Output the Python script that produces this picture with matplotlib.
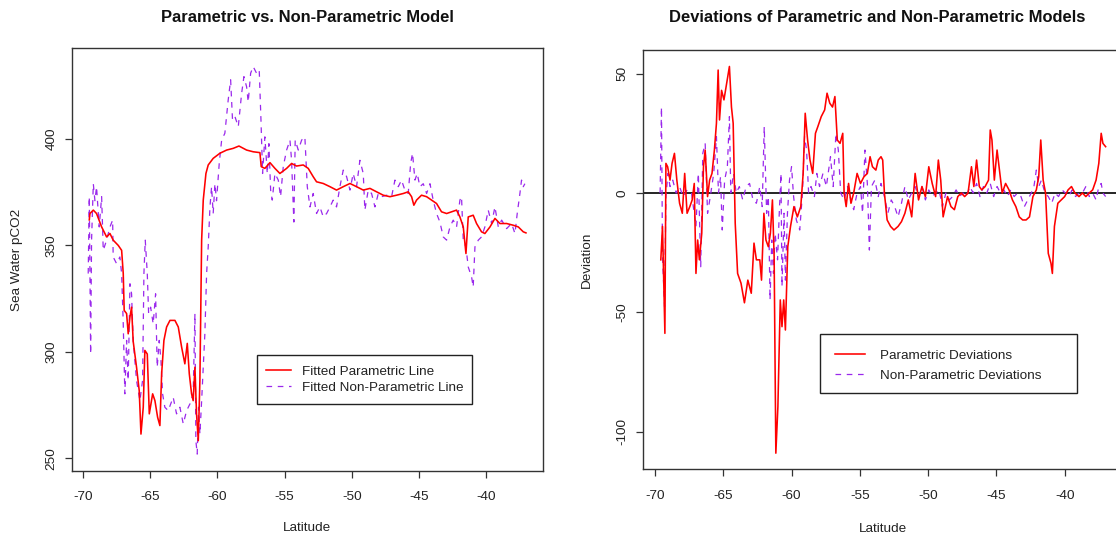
import matplotlib
matplotlib.use("Agg")
import matplotlib.pyplot as plt
from matplotlib.patches import Rectangle

plt.rcParams['font.family'] = ['Liberation Sans', 'DejaVu Sans']
plt.rcParams['axes.unicode_minus'] = False

# ---------------- data ----------------
# Left panel: fitted parametric line (latitude, pCO2)
param_lat = [-69.55, -69.50, -69.25, -69.01, -68.63, -68.26, -68.01, -67.77, -67.39, -67.14,
             -67.02, -66.95, -66.77, -66.65, -66.52, -66.40, -66.28, -66.03, -65.83, -65.70,
             -65.53, -65.41, -65.23, -65.08, -64.83, -64.66, -64.46, -64.29, -64.16, -63.99,
             -63.79, -63.54, -63.17, -62.92, -62.67, -62.43, -62.25, -62.10, -61.93, -61.81,
             -61.68, -61.56, -61.43, -61.31, -61.18, -61.06, -60.86, -60.69, -60.32, -59.82,
             -59.32, -58.83, -58.40, -57.83, -57.34, -56.84, -56.74, -56.47, -56.09, -55.72,
             -55.35, -54.85, -54.48, -54.11, -53.61, -53.24, -52.87, -52.62, -52.12, -51.62,
             -51.13, -50.63, -50.13, -49.64, -49.14, -48.64, -48.15, -47.65, -47.15, -46.66,
             -46.16, -45.79, -45.54, -45.37, -45.17, -44.80, -44.42, -44.05, -43.68, -43.31,
             -42.93, -42.56, -42.19, -41.94, -41.69, -41.49, -41.32, -40.95, -40.70, -40.33,
             -40.08, -39.70, -39.33, -38.96, -38.46, -37.97, -37.59, -37.22, -37.02]
param_fit = [362.0, 365.0, 366.6, 365.0, 358.7, 354.0, 355.6, 352.5, 350.0, 347.7,
             336.8, 319.5, 318.0, 308.5, 316.4, 321.0, 305.0, 292.8, 281.8, 261.4,
             274.0, 300.7, 299.0, 270.9, 280.3, 277.1, 269.3, 265.4, 289.7, 305.4,
             311.7, 314.8, 314.8, 311.7, 302.2, 294.4, 304.0, 289.7, 280.3, 277.1,
             292.8, 270.9, 258.3, 286.6, 352.5, 371.3, 383.8, 387.8, 390.9, 393.3,
             394.8, 395.6, 396.7, 394.8, 394.0, 393.6, 387.0, 386.2, 388.9, 386.2,
             383.8, 386.2, 388.5, 387.3, 387.8, 386.2, 382.3, 379.9, 379.1, 377.6,
             376.0, 377.6, 379.1, 377.6, 376.0, 376.8, 375.2, 373.6, 372.9, 373.6,
             374.4, 375.2, 372.9, 368.9, 371.3, 373.6, 372.9, 371.3, 369.7, 365.8,
             365.0, 365.8, 366.6, 363.4, 358.7, 346.2, 363.4, 364.2, 360.3, 356.4,
             355.6, 358.7, 362.7, 360.3, 360.3, 359.5, 358.7, 356.4, 355.9]

# Left panel: fitted non-parametric line (latitude, pCO2)
nonpar_lat = [-69.63, -69.55, -69.45, -69.38, -69.25, -69.13, -69.01, -68.81, -68.63, -68.51,
              -68.26, -68.01, -67.81, -67.77, -67.52, -67.27, -67.14, -67.02, -66.90, -66.77,
              -66.65, -66.52, -66.40, -66.28, -66.03, -65.78, -65.58, -65.48, -65.38, -65.23,
              -65.13, -64.98, -64.79, -64.61, -64.49, -64.34, -64.21, -64.09, -63.92, -63.67,
              -63.30, -63.05, -62.80, -62.55, -62.30, -62.05, -61.81, -61.68, -61.61, -61.51,
              -61.41, -61.31, -61.18, -61.06, -60.94, -60.81, -60.69, -60.56, -60.44, -60.32,
              -60.19, -60.07, -59.87, -59.69, -59.45, -59.20, -59.02, -58.88, -58.70, -58.45,
              -58.20, -58.03, -57.83, -57.71, -57.53, -57.34, -57.09, -56.89, -56.76, -56.64,
              -56.47, -56.29, -56.17, -56.04, -55.92, -55.72, -55.47, -55.30, -55.10, -54.85,
              -54.60, -54.48, -54.31, -54.21, -53.98, -53.73, -53.49, -53.31, -53.11, -52.87,
              -52.62, -52.37, -52.12, -51.87, -51.62, -51.38, -51.13, -50.88, -50.63, -50.38,
              -50.13, -49.89, -49.64, -49.39, -49.14, -49.02, -48.77, -48.52, -48.27, -48.02,
              -47.78, -47.40, -47.03, -46.78, -46.53, -46.29, -46.04, -45.79, -45.61, -45.47,
              -45.29, -45.12, -44.92, -44.67, -44.42, -44.17, -43.93, -43.68, -43.43, -43.18,
              -42.93, -42.68, -42.44, -42.19, -41.94, -41.82, -41.69, -41.49, -41.32, -41.07,
              -40.95, -40.82, -40.57, -40.33, -40.08, -39.83, -39.58, -39.33, -39.08, -38.83,
              -38.46, -38.09, -37.84, -37.67, -37.47, -37.35, -37.22, -37.10]
nonpar_fit = [336.8, 372.9, 299.0, 352.5, 379.0, 371.0, 377.6, 358.7, 372.9, 347.7,
              352.5, 358.7, 361.9, 344.6, 341.5, 344.6, 336.8, 313.2, 280.3, 305.4,
              286.6, 332.0, 327.3, 305.4, 286.6, 277.1, 286.6, 336.8, 352.5, 336.8,
              318.0, 321.0, 313.2, 327.3, 292.8, 305.4, 296.0, 280.3, 274.0, 272.4,
              278.7, 270.9, 274.0, 266.2, 272.4, 275.6, 280.3, 318.0, 258.3, 252.0,
              274.0, 261.4, 277.1, 292.8, 308.5, 336.8, 349.3, 368.1, 377.6, 365.0,
              379.0, 371.0, 388.5, 399.5, 402.7, 418.4, 427.8, 408.9, 410.5, 405.8,
              421.5, 429.3, 424.5, 417.4, 430.9, 434.0, 430.9, 432.4, 408.9, 383.8,
              401.0, 383.8, 397.8, 376.0, 371.3, 383.8, 380.7, 372.9, 387.0, 394.8,
              399.5, 390.0, 361.0, 399.5, 394.8, 399.5, 401.0, 377.6, 368.1, 374.4,
              365.0, 368.1, 363.4, 365.0, 368.1, 371.3, 368.1, 377.6, 385.4, 382.3,
              376.0, 383.8, 377.6, 390.0, 383.8, 366.6, 376.0, 374.4, 368.1, 374.4,
              372.9, 373.6, 372.9, 380.7, 377.6, 380.7, 376.0, 374.4, 388.5, 393.3,
              380.7, 383.8, 377.6, 379.0, 374.4, 379.0, 371.3, 365.0, 361.0, 354.0,
              352.5, 358.7, 361.9, 358.7, 371.3, 372.9, 352.5, 349.3, 339.9, 335.2,
              330.5, 349.3, 352.5, 354.0, 358.7, 366.6, 360.3, 368.1, 358.7, 361.9,
              357.9, 360.3, 355.6, 365.0, 374.4, 380.7, 377.6, 379.0]

# Right panel: parametric deviations (latitude, deviation)
pdev_lat = [-69.575, -69.45, -69.275, -69.2, -69.075, -68.9, -68.75, -68.575, -68.4, -68.2,
            -68.0, -67.825, -67.65, -67.45, -67.275, -67.125, -67.0, -66.875, -66.75, -66.575,
            -66.45, -66.325, -66.15, -66.0, -65.825, -65.65, -65.5, -65.375, -65.275, -65.125,
            -64.95, -64.75, -64.55, -64.4, -64.275, -64.125, -63.95, -63.7, -63.45, -63.2,
            -62.95, -62.75, -62.575, -62.325, -62.2, -62.025, -61.875, -61.7, -61.55, -61.4,
            -61.275, -61.15, -61.0, -60.825, -60.7, -60.575, -60.45, -60.275, -60.075, -59.825,
            -59.575, -59.325, -59.15, -59.0, -58.825, -58.65, -58.45, -58.25, -58.075, -57.825,
            -57.575, -57.4, -57.2, -57.0, -56.825, -56.65, -56.45, -56.25, -56.15, -56.0,
            -55.825, -55.65, -55.45, -55.2, -54.95, -54.7, -54.45, -54.25, -54.075, -53.825,
            -53.65, -53.45, -53.325, -53.2, -53.0, -52.75, -52.5, -52.2, -51.95, -51.7,
            -51.45, -51.2, -50.95, -50.7, -50.45, -50.2, -49.95, -49.7, -49.45, -49.25,
            -49.075, -48.9, -48.575, -48.325, -48.075, -47.825, -47.575, -47.325, -47.075, -46.825,
            -46.65, -46.45, -46.25, -46.075, -45.825, -45.575, -45.45, -45.325, -45.15, -44.95,
            -44.75, -44.575, -44.325, -44.075, -43.825, -43.575, -43.325, -43.075, -42.825, -42.575,
            -42.325, -42.075, -41.9, -41.75, -41.575, -41.4, -41.2, -41.0, -40.9, -40.75,
            -40.5, -40.25, -40.0, -39.75, -39.5, -39.25, -38.95, -38.7, -38.45, -38.2,
            -37.95, -37.7, -37.5, -37.325, -37.2, -37.0]
pdev_val = [-28.0, -14.0, -58.8, 12.4, 11.0, 5.4, 12.4, 16.6, 5.4, -4.3,
            -8.5, 8.2, -8.5, -5.7, -2.9, 4.0, -33.7, -19.7, -28.0, -16.9,
            11.0, 18.0, -1.5, 5.4, 8.2, 18.0, 29.2, 51.5, 30.6, 43.0,
            39.0, 46.0, 53.0, 36.0, 29.2, -12.7, -33.7, -37.8, -46.0, -36.5,
            -42.0, -21.0, -28.0, -28.0, -36.5, -8.5, -19.7, -22.5, -16.9, -2.9,
            -26.7, -109.0, -89.5, -44.8, -56.0, -44.8, -57.4, -22.5, -14.0, -5.7,
            -10.0, -5.7, 8.2, 33.4, 22.2, 13.8, 8.2, 25.0, 27.8, 32.0,
            34.8, 41.8, 37.6, 36.0, 40.4, 22.2, 20.8, 25.0, 0.0, -5.7,
            4.0, -4.3, 0.0, 8.2, 4.0, 6.8, 8.2, 15.2, 11.0, 9.6,
            13.8, 15.2, 13.8, 0.0, -11.3, -14.0, -15.5, -14.0, -12.0, -8.5,
            -2.9, -10.0, 8.2, -2.9, 2.7, -1.5, 11.0, 4.0, -1.5, 13.8,
            5.4, -10.0, -1.5, -5.7, -7.0, -1.5, 0.0, -1.5, 0.0, 11.0,
            2.7, 13.8, 2.7, 1.3, 2.7, 5.4, 26.4, 22.2, 5.4, 18.0,
            8.2, 0.0, 4.0, 1.3, -2.9, -5.7, -10.0, -11.3, -11.3, -10.0,
            -1.5, 1.3, 6.8, 22.2, 5.4, 0.0, -25.3, -29.5, -33.7, -14.0,
            -4.3, -2.9, -1.5, 1.3, 2.7, 0.0, -1.5, 0.0, -1.5, 0.0,
            1.3, 5.4, 12.4, 25.0, 20.8, 19.4]

# Right panel: non-parametric deviations (latitude, deviation)
ndev_lat = [-69.625, -69.525, -69.45, -69.3, -69.2, -69.05, -68.9, -68.7, -68.45, -68.2,
            -67.95, -67.65, -67.325, -67.0, -66.825, -66.65, -66.5, -66.325, -66.15, -65.95,
            -65.7, -65.5, -65.35, -65.2, -65.075, -64.9, -64.7, -64.55, -64.45, -64.25,
            -64.05, -63.825, -63.575, -63.325, -63.075, -62.825, -62.575, -62.325, -62.15, -62.0,
            -61.825, -61.7, -61.575, -61.45, -61.325, -61.2, -61.025, -60.9, -60.775, -60.7,
            -60.55, -60.45, -60.3, -60.15, -60.0, -59.85, -59.65, -59.4, -59.2, -59.05,
            -58.9, -58.75, -58.575, -58.325, -58.15, -57.95, -57.7, -57.45, -57.15, -56.95,
            -56.75, -56.575, -56.4, -56.15, -55.9, -55.65, -55.45, -55.2, -54.95, -54.8,
            -54.625, -54.45, -54.3, -54.15, -53.9, -53.65, -53.45, -53.2, -52.95, -52.7,
            -52.45, -52.2, -51.95, -51.7, -51.45, -51.2, -50.95, -50.7, -50.45, -50.2,
            -49.95, -49.7, -49.45, -49.2, -48.95, -48.7, -48.45, -48.2, -47.95, -47.7,
            -47.45, -47.2, -46.95, -46.7, -46.45, -46.2, -45.95, -45.7, -45.45, -45.2,
            -44.95, -44.7, -44.45, -44.2, -43.95, -43.7, -43.45, -43.2, -42.95, -42.7,
            -42.45, -42.25, -42.075, -41.9, -41.7, -41.45, -41.2, -40.95, -40.7, -40.45,
            -40.2, -39.95, -39.7, -39.45, -39.2, -38.95, -38.7, -38.45, -38.2, -37.95,
            -37.7, -37.5, -37.325, -37.2, -37.0]
ndev_val = [0.0, 36.0, -26.7, -47.6, -1.5, 8.2, 2.7, 5.4, 0.0, 2.7,
            -1.5, 1.3, 0.0, -14.0, 8.2, -30.9, 16.6, 20.8, -8.5, -1.5,
            8.2, 23.6, 0.0, 6.8, -15.5, 5.4, 11.0, 32.0, 0.0, 8.2,
            0.0, 2.7, -2.9, 2.7, 4.0, -2.9, -4.3, 2.7, -5.7, 27.8,
            -8.5, -1.5, -44.8, -19.7, -33.7, -16.9, -28.0, -8.5, 8.2, -39.2,
            -8.5, -36.5, -8.5, 5.4, 11.0, -1.5, -11.3, -15.5, 0.0, 23.6,
            18.0, 0.0, 2.7, -1.5, 8.2, 2.7, 8.2, 2.7, 15.2, 2.7,
            25.0, 18.0, 0.0, -2.9, 2.7, -2.9, -7.0, 0.0, 2.7, -8.5,
            18.0, 4.0, -23.9, 2.7, 5.4, -1.5, 4.0, -1.5, -8.5, -2.9,
            -5.7, -10.0, -4.3, 2.7, -2.9, 0.0, 2.7, -1.5, 2.7, -2.9,
            1.3, -1.5, 0.0, 1.3, -5.7, 0.0, -2.9, -1.5, 1.3, -1.5,
            0.0, -1.5, 2.7, 0.0, 4.0, -1.5, 2.7, 0.0, 4.0, -1.5,
            2.7, 0.0, 1.3, -1.5, 1.3, -1.5, 0.0, -1.5, -5.7, -2.9,
            0.0, 2.7, 9.6, 2.7, 5.4, 0.0, -1.5, -4.3, 0.0, -1.5,
            1.3, 0.0, -1.5, 1.3, -1.5, 0.0, 0.0, 2.7, -1.5, 0.0,
            -2.9, 2.7, 4.0, 0.0, -1.5]

x_ticks = [-70, -65, -60, -55, -50, -45, -40]
left_yticks = [250, 300, 350, 400]
right_yticks = [-100, -50, 0, 50]

RED = '#FF0000'
PURPLE = '#9A28EC'
TXT = '#222222'
FS = 9.7

# ---------------- figure ----------------
W, H = 1116, 540
fig = plt.figure(figsize=(W / 100, H / 100), dpi=100)
fig.patch.set_facecolor('white')


def px_axes(x0, y0, x1, y1):
    return fig.add_axes([x0 / W, 1 - y1 / H, (x1 - x0) / W, (y1 - y0) / H])


axL = px_axes(71.7, 48.3, 543.0, 470.7)
axR = px_axes(642.7, 50.0, 1122.7, 469.3)

dash = (0, (4.5, 4.5))

axL.plot(param_lat, param_fit, color=RED, lw=1.15, label='Fitted Parametric Line', zorder=3)
axL.plot(nonpar_lat, nonpar_fit, color=PURPLE, lw=0.9, linestyle=dash,
         label='Fitted Non-Parametric Line', zorder=2)
axL.set_xlim(-70.86, -35.75)
axL.set_ylim(244.2, 442.6)
axL.set_yticks(left_yticks)

axR.axhline(0, color='black', lw=1.2, zorder=1)
axR.plot(pdev_lat, pdev_val, color=RED, lw=1.15, label='Parametric Deviations', zorder=3)
axR.plot(ndev_lat, ndev_val, color=PURPLE, lw=0.9, linestyle=dash,
         label='Non-Parametric Deviations', zorder=2)
axR.set_xlim(-70.9, -35.75)
axR.set_ylim(-115.75, 59.9)
axR.set_yticks(right_yticks)

for ax in (axL, axR):
    ax.set_xticks(x_ticks)
    ax.set_xticklabels([str(t) for t in x_ticks])
    for sp in ax.spines.values():
        sp.set_color('#333333')
        sp.set_linewidth(1.0)
    ax.tick_params(axis='both', direction='out', length=5.2, width=0.9,
                   color='#333333', labelsize=FS, labelcolor=TXT)
    ax.tick_params(axis='x', pad=9.5)
    ax.tick_params(axis='y', pad=5)
    for lab in ax.get_yticklabels():
        lab.set_rotation(90)
        lab.set_va('center')
        lab.set_ha('right')
    ax.set_xlabel('Latitude', fontsize=FS, color=TXT)
    ax.xaxis.label.set_va('center')

axL.xaxis.set_label_coords(0.5, -(528 - 470.7) / 422.4)
axR.xaxis.set_label_coords(0.5, -(529 - 469.3) / 419.3)

axL.set_ylabel('Sea Water pCO2', fontsize=FS, color=TXT)
axL.yaxis.set_label_coords((17 - 71.7) / 471.3, 0.5)
axL.yaxis.label.set_va('center')
axR.set_ylabel('Deviation', fontsize=FS, color=TXT)
axR.yaxis.set_label_coords((587 - 642.7) / 480.0, 0.5)
axR.yaxis.label.set_va('center')

fig.text(307 / W, 1 - 18 / H, 'Parametric vs. Non-Parametric Model', ha='center', va='center',
         fontsize=11.9, fontweight='bold', color='#111111')
fig.text(877 / W, 1 - 18 / H, 'Deviations of Parametric and Non-Parametric Models', ha='center',
         va='center', fontsize=11.9, fontweight='bold', color='#111111')

# legends (frame drawn separately so its size follows the reference box)
legL = axL.legend(loc='upper left', bbox_to_anchor=(258 / W, 1 - 357 / H),
                  bbox_transform=fig.transFigure, fontsize=FS, frameon=False,
                  handlelength=1.85, handletextpad=0.85, borderpad=0.6, labelspacing=0.3,
                  borderaxespad=0)
legR = axR.legend(loc='upper left', bbox_to_anchor=(822 / W, 1 - 336 / H),
                  bbox_transform=fig.transFigure, fontsize=FS, frameon=False,
                  handlelength=2.2, handletextpad=1.1, borderpad=1.0, labelspacing=0.55,
                  borderaxespad=0)
for lg in (legL, legR):
    for t in lg.get_texts():
        t.set_color(TXT)

for (x0, y0, x1, y1) in [(256.7, 355.0, 472.3, 404.0), (820.0, 334.0, 1077.0, 393.0)]:
    fig.patches.append(Rectangle((x0 / W, 1 - y1 / H), (x1 - x0) / W, (y1 - y0) / H,
                                 transform=fig.transFigure, fill=False, edgecolor=TXT,
                                 linewidth=1.0, zorder=5))

fig.savefig('out.png', dpi=100, facecolor='white')
